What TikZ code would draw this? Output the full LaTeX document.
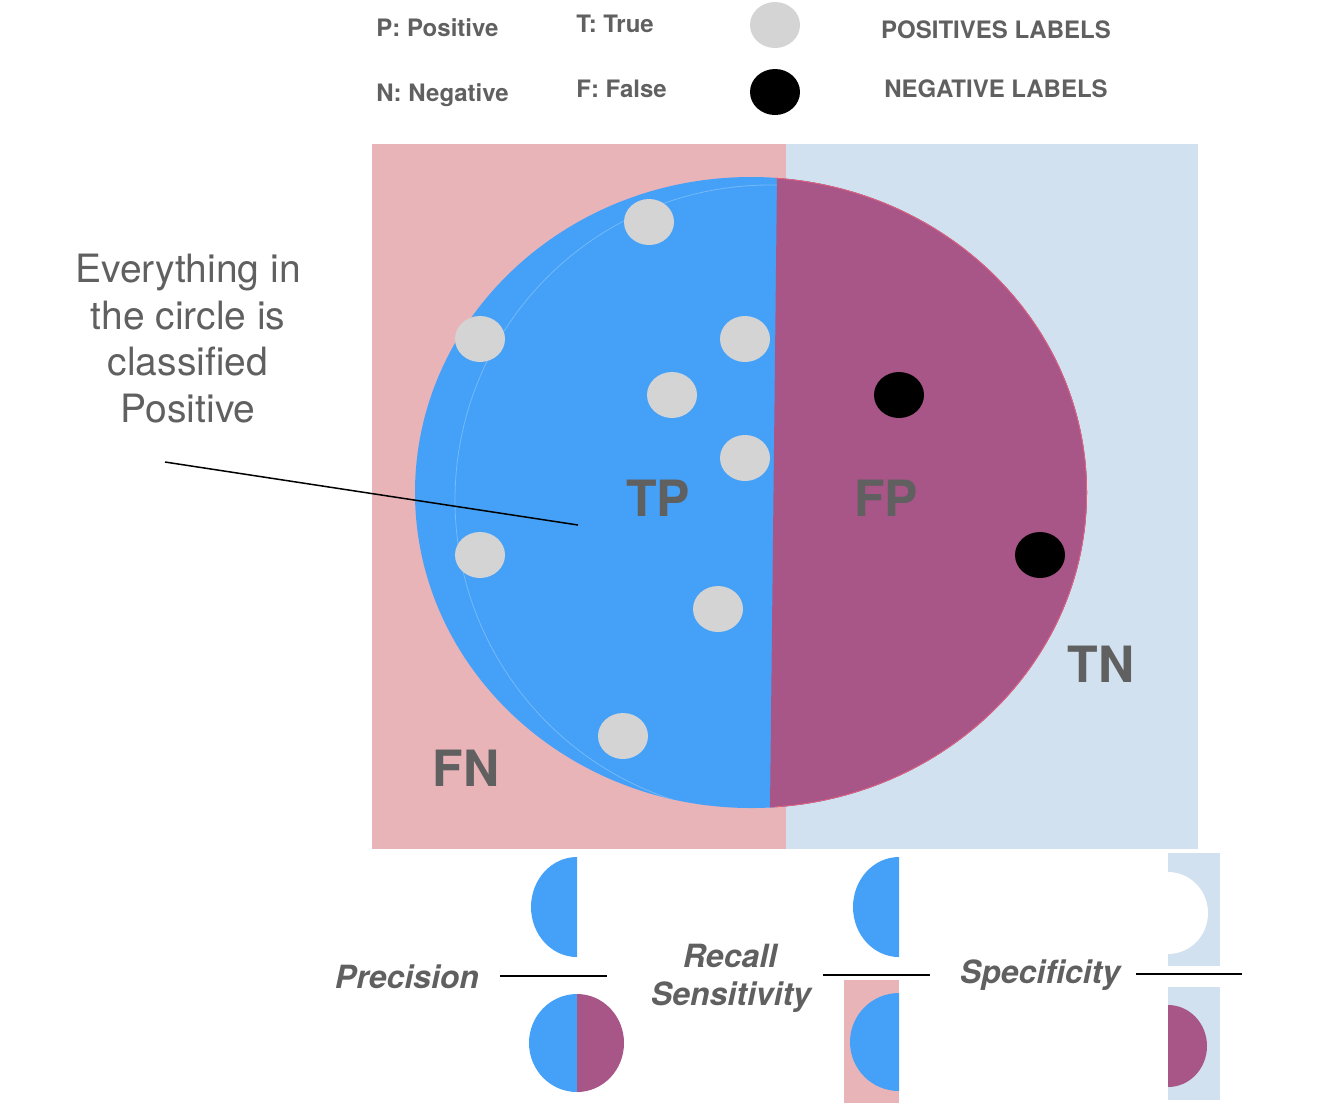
\documentclass[tikz,border=0pt]{standalone}
\usepackage{fontspec}
\setmainfont{TeX Gyre Heros}
\usepackage{xcolor}
\usepackage{tikz}
\usetikzlibrary{shapes.geometric}

\definecolor{fnpink}{HTML}{E8B4B8}
\definecolor{tnblue}{HTML}{D1E1EF}
\definecolor{tpblue}{HTML}{45A1F7}
\definecolor{fppurple}{HTML}{A85587}
\definecolor{dotgrey}{HTML}{D4D4D4}
\definecolor{labelgrey}{HTML}{606060}
\definecolor{rimred}{HTML}{E8607A}

\begin{document}
\begin{tikzpicture}[
    x = 0.5pt, y = -0.5pt, % one unit = one pixel, y downwards
    every node/.style = {text = labelgrey, inner sep = 0pt},
    legend/.style = {font = \bfseries\fontsize{12}{14}\selectfont},
    region/.style = {font = \bfseries\fontsize{25}{30}\selectfont},
    metric/.style = {font = \bfseries\itshape\fontsize{16}{19}\selectfont},
    fracline/.style = {line width = 1pt}
]
\tikzstyle{posdot}=[
    ellipse,
    fill = dotgrey,
    minimum width = 25pt,
    minimum height = 23pt
]
\tikzstyle{negdot}=[posdot, fill = black]

\useasboundingbox (0,0) rectangle (1338,1116);

% legend
\node[legend, anchor = base west] (pos) at (376,36) {P: Positive};
\node[legend, anchor = base west] (neg) at (376,101) {N: Negative};
\node[legend, anchor = base west] (tru) at (576,32) {T: True};
\node[legend, anchor = base west] (fal) at (576,97) {F: False};
\node[posdot] (poskey) at (775,25) {};
\node[negdot] (negkey) at (775,92) {};
\node[legend, anchor = base] (poslbl) at (996,38) {POSITIVES LABELS};
\node[legend, anchor = base] (neglbl) at (996,97) {NEGATIVE LABELS};

% actual classes
\fill[fnpink] (372,144) rectangle (786,849);
\fill[tnblue] (786,144) rectangle (1198,849);

% the classifier circle
\begin{scope}
    \clip (751,492.5) ellipse [x radius = 336, y radius = 315.5];
    \fill[tpblue] (400,150) rectangle (1100,830);
    \draw[tpblue!75!white, line width = 0.4pt] (770,500) circle [radius = 315];
    \fill[fppurple] (777,150) -- (1100,150) -- (1100,830) -- (770,830) -- (770,808) -- (777,177) -- cycle;
    \clip (775,150) rectangle (1100,830);
    \draw[rimred, line width = 0.8pt] (751,492.5) ellipse [x radius = 336, y radius = 315.5];
\end{scope}

% samples
\foreach \x/\y [count=\i] in {649/222, 480/339, 745/339, 672/395,
                               745/458, 480/555, 718/609, 623/736}
    \node[posdot] (p\i) at (\x,\y) {};
\node[negdot] (n1) at (899,395) {};
\node[negdot] (n2) at (1040,555) {};

\node[region, anchor = base] (tp) at (658,516) {TP};
\node[region, anchor = base] (fp) at (886,516) {FP};
\node[region, anchor = base] (tn) at (1101,682) {TN};
\node[region, anchor = base] (fn) at (466,786) {FN};

% note
\node[font = \fontsize{19.5}{23.25}\selectfont, align = center, anchor = north]
    (note) at (188,254) {Everything in\\the circle is\\classified\\Positive};
\coordinate (noteline) at (165,462);
\coordinate (notetip) at (578,525);
\draw[line width = 0.75pt] (noteline) -- (notetip);

% precision
\node[metric, anchor = base] (prec) at (407,988) {Precision};
\draw[fracline] (500,976) -- (607,976);
\fill[tpblue] (577,857) arc [start angle = 270, end angle = 90, x radius = 46, y radius = 50] -- cycle;
\fill[tpblue] (577,994) arc [start angle = 270, end angle = 90, x radius = 48, y radius = 49] -- cycle;
\fill[fppurple] (577,994) arc [start angle = 270, end angle = 450, x radius = 47, y radius = 49] -- cycle;

% recall
\node[metric, anchor = base] (rec) at (730,967) {Recall};
\node[metric, anchor = base] (sens) at (731,1005) {Sensitivity};
\draw[fracline] (823,975) -- (930,975);
\fill[tpblue] (899,857) arc [start angle = 270, end angle = 90, x radius = 46, y radius = 50] -- cycle;
\fill[fnpink] (844,980) rectangle (899,1103);
\fill[tpblue] (899,993) arc [start angle = 270, end angle = 90, x radius = 49, y radius = 49] -- cycle;

% specificity
\node[metric, anchor = base] (spec) at (1040,983) {Specificity};
\draw[fracline] (1136,974) -- (1242,974);
\fill[tnblue] (1168,853) rectangle (1220,966);
\fill[white] (1168,872) arc [start angle = 270, end angle = 450, x radius = 40, y radius = 41] -- cycle;
\fill[tnblue] (1168,987) rectangle (1220,1100);
\fill[fppurple] (1168,1005) arc [start angle = 270, end angle = 450, x radius = 39, y radius = 41] -- cycle;

\end{tikzpicture}
\end{document}
